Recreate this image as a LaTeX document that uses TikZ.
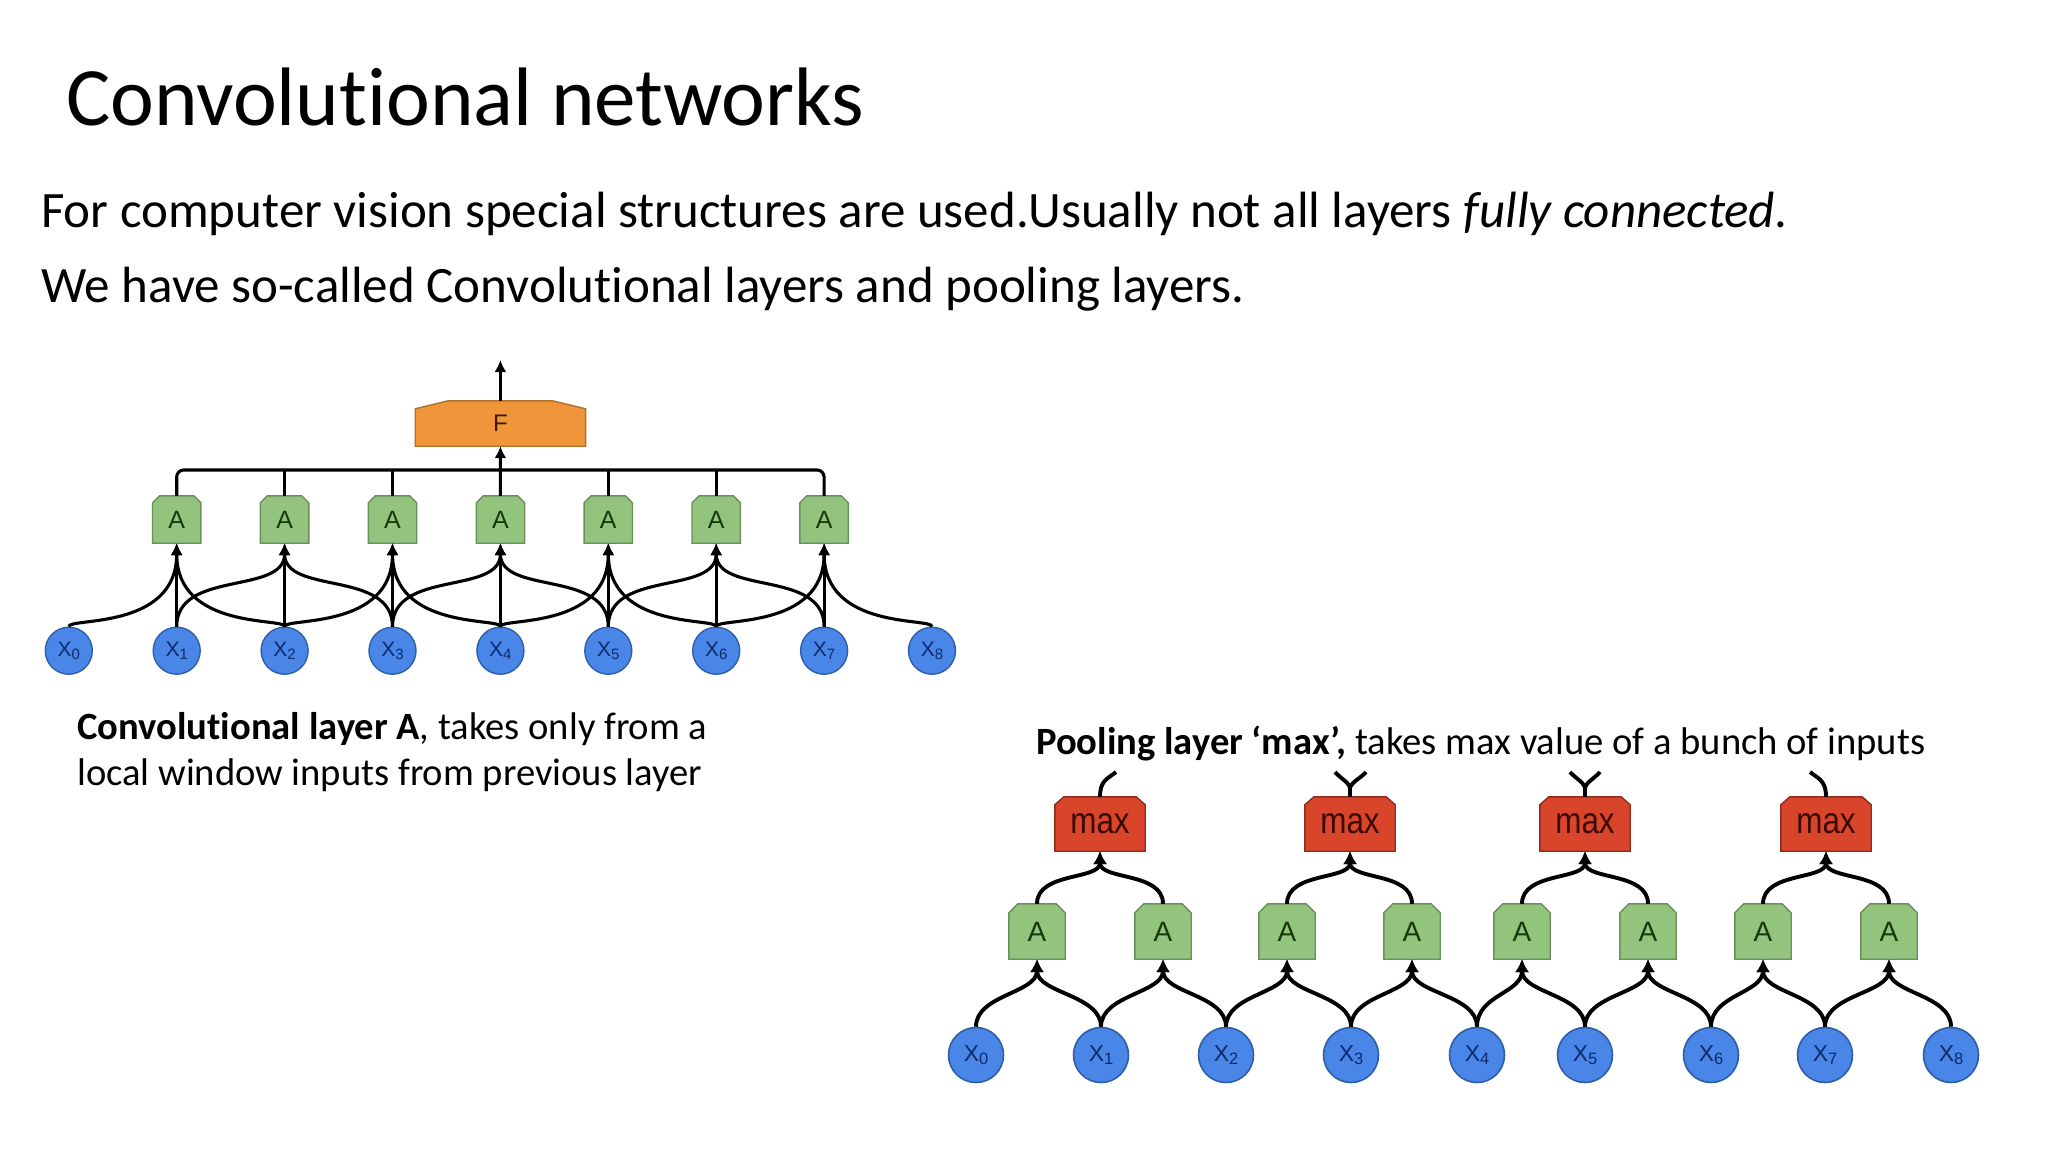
\documentclass[tikz,border=0pt]{standalone}
\usepackage{fontspec}
\setmainfont{Carlito}[Ligatures=NoCommon]
\newfontfamily\nodefont{Liberation Sans}
\usetikzlibrary{arrows.meta,backgrounds}
\definecolor{agreen}{HTML}{93C47D}
\definecolor{agreenb}{HTML}{6B8F5B}
\definecolor{agreent}{HTML}{17380C}
\definecolor{xblue}{HTML}{4A86E8}
\definecolor{xblueb}{HTML}{2F5EA8}
\definecolor{xbluet}{HTML}{0D2B6B}
\definecolor{forange}{HTML}{F0963A}
\definecolor{forangeb}{HTML}{B0702A}
\definecolor{forantet}{HTML}{3A1A00}
\definecolor{mred}{HTML}{D9452B}
\definecolor{mredb}{HTML}{8F2C1C}
\definecolor{mredt}{HTML}{3B0A03}
\newcommand\chamferbox[4]{%
  \path[#4] (#1.south west) -- ([yshift=-#3]#1.north west) -- ([xshift=#2]#1.north west)
    -- ([xshift=-#2]#1.north east) -- ([yshift=-#3]#1.north east) -- (#1.south east) -- cycle;}
\newcommand\xsubl[1]{X\raisebox{-2.5pt}{\fontsize{15}{15}\selectfont #1}}
\newcommand\xsubr[1]{X\raisebox{-3pt}{\fontsize{16.5}{16.5}\selectfont #1}}
\tikzset{
  xl/.style={circle, fill=xblue, draw=xblueb, line width=1.4pt, minimum size=47pt, inner sep=0pt,
    text=xbluet, font=\nodefont\fontsize{21}{21}\selectfont},
  xr/.style={circle, fill=xblue, draw=xblueb, line width=1.6pt, minimum size=55pt, inner sep=0pt,
    text=xbluet, font=\nodefont\fontsize{23}{23}\selectfont},
  al/.style={rectangle, minimum width=48pt, minimum height=47pt, inner sep=0pt,
    text=agreent, font=\nodefont\fontsize{25}{25}\selectfont},
  ar/.style={rectangle, minimum width=56pt, minimum height=55pt, inner sep=0pt,
    text=agreent, font=\nodefont\fontsize{28}{28}\selectfont},
  fbox/.style={rectangle, minimum width=170pt, minimum height=45pt, inner sep=0pt,
    text=forantet, font=\nodefont\fontsize{24}{24}\selectfont},
  mx/.style={rectangle, minimum width=90pt, minimum height=54pt, inner sep=0pt,
    text=mredt, font=\nodefont\fontsize{37}{37}\selectfont},
  gshape/.style={fill=agreen, draw=agreenb, line width=1.4pt},
  oshape/.style={fill=forange, draw=forangeb, line width=1.4pt},
  rshape/.style={fill=mred, draw=mredb, line width=1.4pt},
  lline/.style={line width=3.1pt, black},
  lconn/.style={lline, -{Latex[length=12pt,width=12pt]}},
  rline/.style={line width=3.9pt, black},
  rconn/.style={rline, -{Latex[length=13pt,width=14pt]}},
  title/.style={anchor=base west, inner sep=0pt, font=\fontsize{83}{83}\selectfont},
  body/.style={anchor=base west, inner sep=0pt, font=\fontsize{51}{51}\selectfont},
  capt/.style={anchor=base west, inner sep=0pt, font=\fontsize{38.6}{38.6}\selectfont},
}
\begin{document}
\begin{tikzpicture}[x=1pt,y=-1pt]
\useasboundingbox (0,0) rectangle (2048,1152);
\begin{scope}[on background layer]
  \fill[white] (0,0) rectangle (2048,1152);
\end{scope}

% ---------- texts ----------
\node[title] (ttl) at (66,125) {Convolutional networks};
\node[body] (l1) at (41,227) {For computer vision special structures are used.Usually not all layers \textit{fully connected.}};
\node[body] (l2) at (41,302) {We have so-called Convolutional layers and pooling layers.};
\node[capt] (c1) at (77,739) {\textbf{Convolutional layer A}, takes only from a};
\node[capt] (c2) at (77,785) {local window inputs from previous layer};
\node[capt] (c3) at (1036,754) {\textbf{Pooling layer ‘max’,} takes max value of a bunch of inputs};

% ---------- left diagram ----------
\foreach \i in {0,...,8}
  \node[xl] (lx\i) at ({68.8+107.9*\i},650.7) {\xsubl{\i}};
\foreach \i in {1,...,7}
  \node[al] (la\i) at ({68.8+107.9*\i},519.5) {A};
\node[fbox] (F) at (500.4,423.5) {F};
\coordinate (fout) at (500.4,360);
\coordinate (bus) at (500.4,470);
\begin{scope}[on background layer]
  \foreach \i in {1,...,7} {\chamferbox{la\i}{7pt}{7pt}{gshape}}
  \chamferbox{F}{33pt}{8pt}{oshape}
\end{scope}
\foreach \i in {1,...,7} \draw[lconn] (lx\i.north) -- (la\i.south);
\foreach \i/\l/\r in {1/0/2,3/2/4,5/4/6,7/6/8} {
  \draw[lconn] (lx\l.north) .. controls +(0,-9) and +(0,87) .. (la\i.south);
  \draw[lconn] (lx\r.north) .. controls +(0,-9) and +(0,87) .. (la\i.south);
}
\foreach \i/\l/\r in {2/1/3,4/3/5,6/5/7} {
  \draw[lconn] (lx\l.north) .. controls +(0,-57) and +(0,52) .. (la\i.south);
  \draw[lconn] (lx\r.north) .. controls +(0,-57) and +(0,52) .. (la\i.south);
}
\draw[lline, rounded corners=7pt] (la1.north) -- (la1.north |- bus) -- (la7.north |- bus) -- (la7.north);
\foreach \i in {2,3,5,6} \draw[lline] (la\i.north) -- (la\i.north |- bus);
\draw[lconn] (la4.north) -- (F.south);
\draw[lconn] (F.north) -- (fout);

% ---------- right diagram ----------
\foreach \x [count=\i from 0] in {976,1101,1226,1351,1477,1585,1711,1825,1951}
  \node[xr] (rx\i) at (\x,1055) {\xsubr{\i}};
\foreach \x [count=\i from 0] in {1037,1163,1287,1412,1522,1648,1763,1889}
  \node[ar] (ra\i) at (\x,931.5) {A};
\foreach \x [count=\i from 0] in {1100,1350,1585,1826}
  \node[mx] (rm\i) at (\x,824) {\scalebox{0.85}[1]{max}};
\begin{scope}[on background layer]
  \foreach \i in {0,...,7} {\chamferbox{ra\i}{9pt}{9pt}{gshape}}
  \foreach \i in {0,...,3} {\chamferbox{rm\i}{9pt}{8pt}{rshape}}
\end{scope}
\foreach \i in {0,...,7} {
  \pgfmathtruncatemacro\j{\i+1}
  \draw[rconn] (rx\i.north) .. controls +(0,-32) and +(0,34) .. (ra\i.south);
  \draw[rconn] (rx\j.north) .. controls +(0,-32) and +(0,34) .. (ra\i.south);
}
\foreach \m in {0,...,3} {
  \pgfmathtruncatemacro\a{2*\m}
  \pgfmathtruncatemacro\b{2*\m+1}
  \draw[rconn] (ra\a.north) .. controls +(0,-32) and +(0,29) .. (rm\m.south);
  \draw[rconn] (ra\b.north) .. controls +(0,-32) and +(0,29) .. (rm\m.south);
}
\coordinate (o0) at (1116,772);
\coordinate (o1a) at (1335,772);
\coordinate (o1b) at (1366,772);
\coordinate (o2a) at (1570,772);
\coordinate (o2b) at (1600,772);
\coordinate (o3) at (1810,772);
\draw[rline] (rm0.north) .. controls +(0,-16) and +(-9,7) .. (o0);
\draw[rline] (rm3.north) .. controls +(0,-16) and +(9,7) .. (o3);
\draw[rline] (rm1.north) -- ++(0,-8) .. controls +(0,-6) and +(5,6) .. (o1a);
\draw[rline] (rm1.north) -- ++(0,-8) .. controls +(0,-6) and +(-5,6) .. (o1b);
\draw[rline] (rm2.north) -- ++(0,-8) .. controls +(0,-6) and +(5,6) .. (o2a);
\draw[rline] (rm2.north) -- ++(0,-8) .. controls +(0,-6) and +(-5,6) .. (o2b);
\end{tikzpicture}
\end{document}
